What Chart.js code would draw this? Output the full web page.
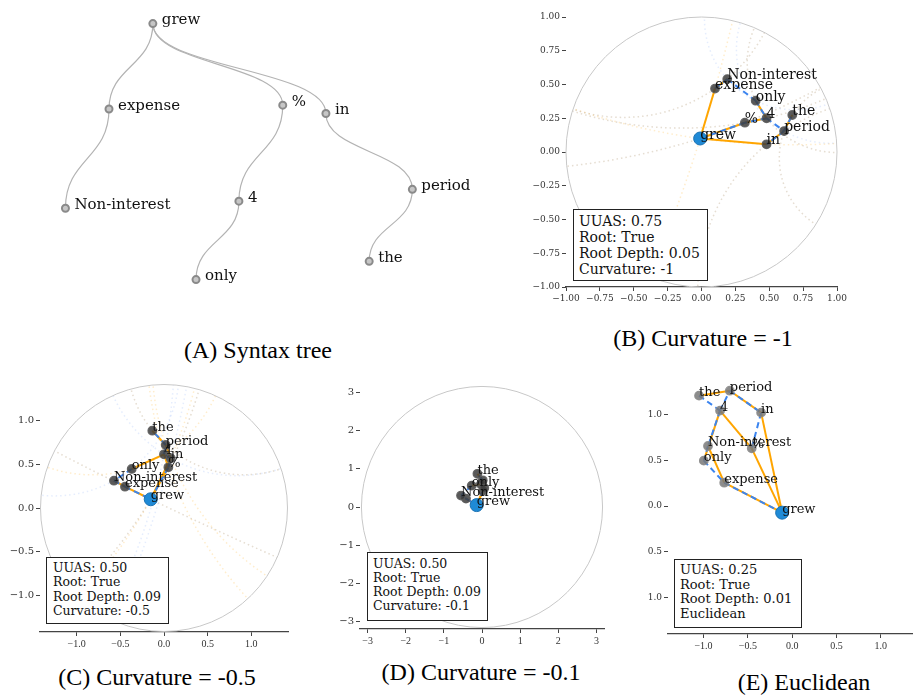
<!DOCTYPE html>
<html>
<head>
<meta charset="utf-8">
<script src="https://cdn.jsdelivr.net/npm/chart.js@4.4.1/dist/chart.umd.min.js"></script>
<style>
body { margin:0; background:#fff; width:920px; height:696px; position:relative; overflow:hidden; }
canvas { position:absolute; }
.cap { position:absolute; font-family:'Liberation Serif', serif; font-size:24px; color:#000; white-space:nowrap; transform:translate(-50%,-50%); }
.box { position:absolute; box-sizing:border-box; border:1px solid #222; background:#fff; font-family:'DejaVu Serif', serif; color:#111; white-space:nowrap; }
</style>
</head>
<body>
<canvas id="chartA" width="470" height="300" style="left:0;top:0"></canvas>
<canvas id="chartB" width="332" height="305" style="left:520px;top:5px"></canvas>
<canvas id="chartC" width="300" height="280" style="left:0;top:375px"></canvas>
<canvas id="chartD" width="295" height="280" style="left:320px;top:375px"></canvas>
<canvas id="chartE" width="295" height="290" style="left:625px;top:365px"></canvas>

<div class="box" style="left:573px;top:209px;width:135px;height:72px;font-size:14px;line-height:16px;padding:3px 5px">UUAS: 0.75<br>Root: True<br>Root Depth: 0.05<br>Curvature: -1</div>
<div class="box" style="left:46px;top:557px;width:123px;height:67px;font-size:12.5px;line-height:14.3px;padding:3px 6px">UUAS: 0.50<br>Root: True<br>Root Depth: 0.09<br>Curvature: -0.5</div>
<div class="box" style="left:367px;top:552px;width:121px;height:69px;font-size:12.5px;line-height:14px;padding:4px 5px">UUAS: 0.50<br>Root: True<br>Root Depth: 0.09<br>Curvature: -0.1</div>
<div class="box" style="left:674px;top:559px;width:128px;height:69px;font-size:13px;line-height:14.5px;padding:3px 5px">UUAS: 0.25<br>Root: True<br>Root Depth: 0.01<br>Euclidean</div>

<div class="cap" style="left:258px;top:350px">(A) Syntax tree</div>
<div class="cap" style="left:703px;top:338px">(B) Curvature = -1</div>
<div class="cap" style="left:157px;top:677px">(C) Curvature = -0.5</div>
<div class="cap" style="left:481px;top:672px">(D) Curvature = -0.1</div>
<div class="cap" style="left:804px;top:682px">(E) Euclidean</div>

<script>
// mots et arbre de référence
var words = ["grew", "expense", "Non-interest", "%", "4", "only", "in", "period", "the"];
var goldEdges = [[0,1],[1,2],[0,3],[3,4],[4,5],[0,6],[6,7],[7,8]];

// (A) arbre syntaxique
var treeX = [150.7, 105.7, 61, 284, 239, 195, 328.3, 417, 372.7];
var treeY = [18.3, 107.3, 210.7, 103.3, 203.3, 285, 112, 191, 266];

// (B) courbure -1
var bX = [-0.01, 0.10, 0.19, 0.32, 0.48, 0.40, 0.48, 0.61, 0.67];
var bY = [0.10, 0.47, 0.54, 0.217, 0.25, 0.38, 0.057, 0.155, 0.274];
var bPred = [[1,2],[2,5],[5,4],[4,3],[3,0],[4,7],[7,6],[7,8]];
var bTicks = [-1, -0.75, -0.5, -0.25, 0, 0.25, 0.5, 0.75, 1];
var bLabels = ["\u22121.00", "\u22120.75", "\u22120.50", "\u22120.25", "0.00", "0.25", "0.50", "0.75", "1.00"];

// (C) courbure -0.5
var cX = [-0.152, -0.447, -0.573, 0.05, 0.0, -0.37, 0.077, 0.02, -0.134];
var cY = [0.10, 0.244, 0.313, 0.466, 0.615, 0.447, 0.569, 0.722, 0.885];
var cPred = [[2,1],[1,0],[0,3],[3,6],[6,4],[4,7],[7,8],[5,2]];
var cTicks = [-1, -0.5, 0, 0.5, 1];
var cLabels = ["\u22121.0", "\u22120.5", "0.0", "0.5", "1.0"];

// (D) courbure -0.1
var dX = [-0.14, -0.42, -0.55, 0.02, -0.03, -0.27, 0.06, 0.02, -0.12];
var dY = [0.05, 0.22, 0.30, 0.42, 0.60, 0.56, 0.50, 0.70, 0.87];
var dPred = [[2,1],[1,0],[0,3],[3,6],[6,4],[4,7],[7,8],[5,2]];
var dShown = [0, 2, 5, 8];
var dTicks = [-3, -2, -1, 0, 1, 2, 3];
var dLabels = ["\u22123", "\u22122", "\u22121", "0", "1", "2", "3"];

// (E) euclidien
var eX = [-0.113, -0.766, -0.949, -0.456, -0.813, -0.996, -0.35, -0.703, -1.05];
var eY = [-0.073, 0.255, 0.656, 0.631, 1.043, 0.496, 1.021, 1.261, 1.207];
var ePred = [[8,4],[4,7],[4,2],[2,5],[5,1],[1,0],[7,6],[6,3]];
var eTicks = [-1, -0.5, 0, 0.5, 1];
var eXLabels = ["\u22121.0", "\u22120.5", "0.0", "0.5", "1.0"];
var eYLabels = ["1.0", "0.5", "0.0", "0.5", "1.0"];

var ORANGE = "#ffa500";
var BLUE = "#3b84ef";
var ROOT = "#1f8ad6";

function axis(min, max, ticks, labels, size, font, isX, border) {
    return {
        type: "linear", min: min, max: max,
        afterBuildTicks: function(s) { s.ticks = ticks.map(function(v) { return {value: v}; }); },
        afterFit: function(s) { if (isX) s.height = size; else s.width = size; },
        ticks: {
            autoSkip: false, maxRotation: 0, padding: 2, color: "#333", font: font,
            callback: function(v, i) { return labels[i]; }
        },
        grid: { drawOnChartArea: false, drawTicks: true, tickLength: 4, tickColor: "#444" },
        border: { display: border, color: "#444", width: 1.3 }
    };
}

// géodésique du disque de rayon R passant par p et q
function geodesic(p, q, R) {
    var det = p[0] * q[1] - p[1] * q[0];
    if (Math.abs(det) < 1e-6) return null;
    var a = (p[0] * p[0] + p[1] * p[1] + R * R) / 2;
    var b = (q[0] * q[0] + q[1] * q[1] + R * R) / 2;
    var cx = (a * q[1] - b * p[1]) / det;
    var cy = (p[0] * b - q[0] * a) / det;
    return {cx: cx, cy: cy, r: Math.sqrt(cx * cx + cy * cy - R * R)};
}

function panel(id, xs, ys, pred, o) {
    var pts = xs.map(function(x, i) { return {x: x, y: ys[i]}; });
    var datasets = [];
    datasets.push({ data: [pts[0]], pointRadius: 6.5, backgroundColor: ROOT, borderColor: "#1b72b3", borderWidth: 1, order: 0 });
    datasets.push({ data: pts.slice(1), pointRadius: 4.3, backgroundColor: o.nodeColor, borderColor: o.nodeBorder, borderWidth: 1.2, order: 1 });
    pred.forEach(function(e) {
        datasets.push({ data: [pts[e[0]], pts[e[1]]], showLine: true, pointRadius: 0, borderColor: BLUE, borderWidth: 2, borderDash: [6, 4], order: 2 });
    });
    goldEdges.forEach(function(e) {
        datasets.push({ data: [pts[e[0]], pts[e[1]]], showLine: true, pointRadius: 0, borderColor: ORANGE, borderWidth: 2, order: 3 });
    });

    var shown = o.shown || words.map(function(w, i) { return i; });

    var diskPlugin = {
        id: "disk",
        beforeDatasetsDraw: function(chart) {
            if (!o.R) return;
            var ctx = chart.ctx, sx = chart.scales.x, sy = chart.scales.y;
            var x0 = sx.getPixelForValue(0), y0 = sy.getPixelForValue(0);
            var kx = sx.getPixelForValue(1) - x0, ky = y0 - sy.getPixelForValue(1);
            ctx.save();
            if (o.geo) {
                ctx.beginPath();
                ctx.ellipse(x0, y0, o.R * kx, o.R * ky, 0, 0, Math.PI * 2);
                ctx.clip();
                ctx.lineWidth = 1.5;
                ctx.setLineDash([1.5, 3]);
                [[goldEdges, "rgba(255,165,0,0.2)"], [pred, "rgba(70,130,240,0.14)"]].forEach(function(set) {
                    ctx.strokeStyle = set[1];
                    set[0].forEach(function(e) {
                        var g = geodesic([xs[e[0]], ys[e[0]]], [xs[e[1]], ys[e[1]]], o.R);
                        if (!g) return;
                        ctx.beginPath();
                        ctx.ellipse(sx.getPixelForValue(g.cx), sy.getPixelForValue(g.cy), g.r * kx, g.r * ky, 0, 0, Math.PI * 2);
                        ctx.stroke();
                    });
                });
            }
            ctx.restore();
            ctx.save();
            ctx.strokeStyle = "#c8c8c8";
            ctx.lineWidth = 1;
            ctx.beginPath();
            ctx.ellipse(x0, y0, o.R * kx, o.R * ky, 0, 0, Math.PI * 2);
            ctx.stroke();
            ctx.restore();
        }
    };

    var labelPlugin = {
        id: "wordLabels",
        afterDatasetsDraw: function(chart) {
            var ctx = chart.ctx, sx = chart.scales.x, sy = chart.scales.y;
            ctx.save();
            ctx.font = o.labelSize + "px 'DejaVu Serif'";
            ctx.fillStyle = "#111";
            ctx.textBaseline = "alphabetic";
            ctx.textAlign = "left";
            shown.forEach(function(i) {
                ctx.fillText(words[i], sx.getPixelForValue(xs[i]), sy.getPixelForValue(ys[i]));
            });
            ctx.restore();
        }
    };

    return new Chart(document.getElementById(id), {
        type: "scatter",
        data: { datasets: datasets },
        options: {
            responsive: false, animation: false,
            layout: { padding: o.padding },
            plugins: { legend: { display: false }, tooltip: { enabled: false } },
            scales: {
                x: axis(o.xMin, o.xMax, o.xTicks, o.xLabels, o.xSize, o.xFont, true, true),
                y: axis(o.yMin, o.yMax, o.yTicks, o.yLabels, o.ySize, o.yFont, false, false)
            }
        },
        plugins: [diskPlugin, labelPlugin]
    });
}

// (A) arbre
var treeLinks = {
    id: "treeLinks",
    beforeDatasetsDraw: function(chart) {
        var ctx = chart.ctx, sx = chart.scales.x, sy = chart.scales.y;
        ctx.save();
        ctx.strokeStyle = "#b3b3b3";
        ctx.lineWidth = 1.2;
        goldEdges.forEach(function(e) {
            var x1 = sx.getPixelForValue(treeX[e[0]]), y1 = sy.getPixelForValue(treeY[e[0]]);
            var x2 = sx.getPixelForValue(treeX[e[1]]), y2 = sy.getPixelForValue(treeY[e[1]]);
            var m = (y1 + y2) / 2;
            ctx.beginPath();
            ctx.moveTo(x1, y1);
            ctx.bezierCurveTo(x1, m, x2, m, x2, y2);
            ctx.stroke();
        });
        ctx.restore();
    },
    afterDatasetsDraw: function(chart) {
        var ctx = chart.ctx, sx = chart.scales.x, sy = chart.scales.y;
        ctx.save();
        ctx.font = "15px 'DejaVu Serif'";
        ctx.fillStyle = "#111";
        ctx.textBaseline = "middle";
        words.forEach(function(w, i) {
            ctx.fillText(w, sx.getPixelForValue(treeX[i]) + 9, sy.getPixelForValue(treeY[i]) - 3);
        });
        ctx.restore();
    }
};

new Chart(document.getElementById("chartA"), {
    type: "scatter",
    data: { datasets: [{
        data: treeX.map(function(x, i) { return {x: x, y: treeY[i]}; }),
        pointRadius: 3.5, backgroundColor: "#c6c6c6", borderColor: "#8a8a8a", borderWidth: 2
    }] },
    options: {
        responsive: false, animation: false,
        layout: { padding: 0 },
        plugins: { legend: { display: false }, tooltip: { enabled: false } },
        scales: {
            x: { display: false, min: 0, max: 470 },
            y: { display: false, min: 0, max: 300, reverse: true }
        }
    },
    plugins: [treeLinks]
});

var dv9 = { family: "'DejaVu Serif'", size: 9 };
var dv10 = { family: "'DejaVu Serif'", size: 10 };
var lib10 = { family: "'Liberation Serif'", size: 10 };

panel("chartB", bX, bY, bPred, {
    R: 1, geo: true, labelSize: 14, nodeColor: "rgba(60,60,60,0.85)", nodeBorder: "rgba(90,90,90,0.9)",
    padding: { top: 12, right: 15, left: 0, bottom: 0 },
    xMin: -1, xMax: 1, xTicks: bTicks, xLabels: bLabels, xSize: 23, xFont: dv9,
    yMin: -1, yMax: 1, yTicks: bTicks, yLabels: bLabels, ySize: 46, yFont: dv9
});

panel("chartC", cX, cY, cPred, {
    R: Math.SQRT2, geo: true, labelSize: 13, nodeColor: "rgba(60,60,60,0.85)", nodeBorder: "rgba(90,90,90,0.9)",
    padding: { top: 9, right: 12, left: 0, bottom: 0 },
    xMin: -1.42, xMax: 1.42, xTicks: cTicks, xLabels: cLabels, xSize: 23, xFont: lib10,
    yMin: -1.42, yMax: 1.42, yTicks: cTicks, yLabels: cLabels, ySize: 40, yFont: dv10
});

panel("chartD", dX, dY, dPred, {
    R: Math.sqrt(10), geo: false, labelSize: 13, shown: dShown, nodeColor: "rgba(60,60,60,0.85)", nodeBorder: "rgba(90,90,90,0.9)",
    padding: { top: 10, right: 11, left: 0, bottom: 0 },
    xMin: -3.2, xMax: 3.2, xTicks: dTicks, xLabels: dLabels, xSize: 26, xFont: lib10,
    yMin: -3.2, yMax: 3.2, yTicks: dTicks, yLabels: dLabels, ySize: 40, yFont: dv10
});

panel("chartE", eX, eY, ePred, {
    R: 0, geo: false, labelSize: 13, nodeColor: "rgba(120,120,120,0.85)", nodeBorder: "rgba(140,140,140,0.9)",
    padding: { top: 13, right: 0, left: 0, bottom: 0 },
    xMin: -1.4, xMax: 1.357, xTicks: eTicks, xLabels: eXLabels, xSize: 21, xFont: lib10,
    yMin: -1.4, yMax: 1.4, yTicks: eTicks, yLabels: eYLabels, ySize: 43, yFont: dv9
});
</script>
</body>
</html>
